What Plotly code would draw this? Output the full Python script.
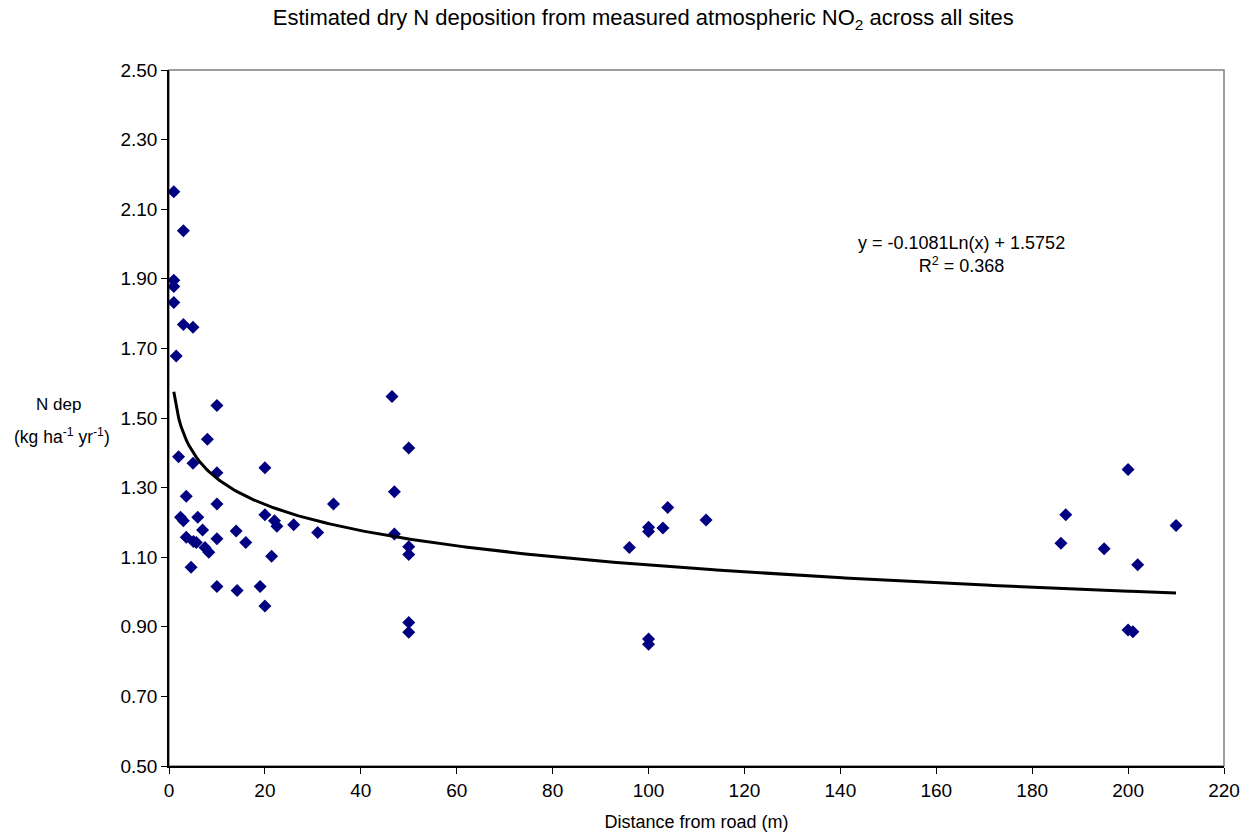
import numpy as np
import plotly.graph_objects as go

# Distance from road (m)
distance = [1, 3, 1, 1, 1, 3, 5, 1.5,
            10, 8, 2, 5, 10, 20, 3.6, 10, 20, 2.4, 3, 6, 22, 22.5, 26,
            7, 14, 3.6, 5.1, 5.7, 10, 16, 7.5, 8.3, 21.4, 4.6, 10, 14.2, 19, 20,
            46.5, 50, 47, 34.3, 31, 47, 50, 50, 50, 50,
            104, 112, 100, 100, 103, 96, 100, 100,
            200, 210, 195, 202, 200, 201, 187, 186]
# N deposition (kg ha-1 yr-1)
ndep = [2.150, 2.038, 1.896, 1.878, 1.832, 1.769, 1.761, 1.678,
        1.536, 1.439, 1.389, 1.370, 1.343, 1.357, 1.275, 1.253, 1.222, 1.215, 1.205, 1.215, 1.205, 1.189, 1.193,
        1.178, 1.175, 1.157, 1.145, 1.142, 1.153, 1.142, 1.128, 1.114, 1.103, 1.071, 1.016, 1.004, 1.016, 0.960,
        1.562, 1.414, 1.288, 1.253, 1.171, 1.167, 1.130, 1.108, 0.912, 0.884,
        1.243, 1.207, 1.186, 1.174, 1.184, 1.128, 0.865, 0.850,
        1.352, 1.191, 1.124, 1.078, 0.891, 0.886, 1.222, 1.140]

# Logarithmic trendline coefficients
slope = -0.1081
intercept = 1.5752
trend_x = np.linspace(1, 210, 400)
trend_y = slope * np.log(trend_x) + intercept

font = "Liberation Sans, Arial, sans-serif"

fig = go.Figure()
fig.add_trace(go.Scatter(x=distance, y=ndep, mode="markers",
                         marker=dict(symbol="diamond", color="#000080", size=10),
                         showlegend=False))
fig.add_trace(go.Scatter(x=trend_x, y=trend_y, mode="lines",
                         line=dict(color="black", width=3), showlegend=False))

fig.update_layout(
    width=1249, height=836,
    margin=dict(l=169, r=25, t=70, b=70, autoexpand=False),
    paper_bgcolor="white", plot_bgcolor="white",
    font=dict(family=font, size=18, color="black"),
    title=dict(text="Estimated dry N deposition from measured atmospheric NO<sub>2</sub> across all sites",
               x=0.515, xanchor="center", y=0.988, yanchor="top",
               font=dict(family=font, size=22, color="black")),
    shapes=[dict(type="rect", xref="paper", yref="paper", x0=0, y0=0, x1=1, y1=1,
                 line=dict(color="#808080", width=1.5), layer="below")],
    annotations=[
        dict(text="N dep", xref="paper", yref="paper",
             x=-0.105, y=0.519, xanchor="center", yanchor="middle", showarrow=False,
             font=dict(family=font, size=17, color="black")),
        dict(text="(kg ha<sup>-1</sup> yr<sup>-1</sup>)", xref="paper", yref="paper",
             x=-0.101, y=0.474, xanchor="center", yanchor="middle", showarrow=False,
             font=dict(family=font, size=17.5, color="black")),
        dict(text="y = -0.1081Ln(x) + 1.5752<br>R<sup>2</sup> = 0.368", x=165.3, y=1.970,
             xanchor="center", yanchor="middle", showarrow=False,
             font=dict(family=font, size=18, color="black")),
    ],
)
fig.update_xaxes(range=[0, 220], dtick=20, tick0=0, showgrid=False, zeroline=False,
                 showline=True, linecolor="black", linewidth=1.5, automargin=False,
                 ticks="outside", ticklen=6, tickcolor="black",
                 tickfont=dict(family=font, size=19),
                 title=dict(text="Distance from road (m)", font=dict(family=font, size=18), standoff=16))
fig.update_yaxes(range=[0.5, 2.5], dtick=0.2, tick0=0.5, tickformat=".2f", showgrid=False, zeroline=False,
                 showline=True, linecolor="black", linewidth=1.5, automargin=False,
                 ticks="outside", ticklen=6, tickcolor="black",
                 tickfont=dict(family=font, size=19))

fig.write_html("out.html")
